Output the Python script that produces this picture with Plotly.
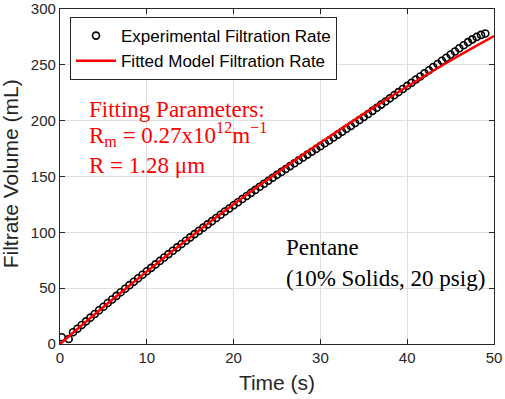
import plotly.graph_objects as go

exp_time = [0.2, 1.0, 1.5, 2.0, 2.5, 3.0, 3.5, 4.0, 4.5, 5.0, 5.5, 6.0, 6.5, 7.0, 7.5, 8.0,
            8.5, 9.0, 9.5, 10.0, 10.5, 11.0, 11.5, 12.0, 12.5, 13.0, 13.5, 14.0, 14.5, 15.0,
            15.5, 16.0, 16.5, 17.0, 17.5, 18.0, 18.5, 19.0, 19.5, 20.0, 20.5, 21.0, 21.5,
            22.0, 22.5, 23.0, 23.5, 24.0, 24.5, 25.0, 25.5, 26.0, 26.5, 27.0, 27.5, 28.0,
            28.5, 29.0, 29.5, 30.0, 30.5, 31.0, 31.5, 32.0, 32.5, 33.0, 33.5, 34.0, 34.5,
            35.0, 35.5, 36.0, 36.5, 37.0, 37.5, 38.0, 38.5, 39.0, 39.5, 40.0, 40.5, 41.0,
            41.5, 42.0, 42.5, 43.0, 43.5, 44.0, 44.5, 45.0, 45.5, 46.0, 46.5, 47.0, 47.5,
            48.0, 48.5, 49.0]
exp_volume = [6.0, 4.5, 10.5, 13.6, 17.0, 20.3, 23.6, 26.9, 30.2, 33.4, 36.7, 39.9, 43.1,
              46.3, 49.5, 52.7, 55.8, 58.9, 62.0, 65.1, 68.2, 71.3, 74.4, 77.4, 80.5, 83.5,
              86.5, 89.5, 92.5, 95.5, 98.4, 101.3, 104.2, 107.1, 110.0, 112.9, 115.8, 118.6,
              121.4, 124.2, 127.0, 129.8, 132.5, 135.3, 138.0, 140.8, 143.5, 146.2, 148.9,
              151.5, 154.1, 156.7, 159.3, 161.9, 164.5, 167.0, 169.6, 172.1, 174.7, 177.2,
              179.8, 182.3, 184.9, 187.5, 190.1, 192.7, 195.3, 197.9, 200.6, 203.3, 206.0,
              208.8, 211.6, 214.4, 217.2, 220.0, 222.8, 225.6, 228.4, 231.2, 234.0, 236.8,
              239.6, 242.4, 245.2, 248.0, 250.8, 253.6, 256.4, 259.2, 262.0, 264.8, 267.6,
              270.3, 272.8, 275.0, 276.8, 278.0]

# Fitted model curve
fit_time = [0, 5, 10, 15, 20, 25, 30, 35, 40, 45, 50]
fit_volume = [0, 33.1, 65.0, 95.7, 125.1, 153.3, 180.3, 206.1, 230.6, 253.9, 275.7]

x_ticks = [0, 10, 20, 30, 40, 50]
y_ticks = [0, 50, 100, 150, 200, 250, 300]

SANS = "Liberation Sans, Arial"
SERIF = "Liberation Serif, Times New Roman"

fig = go.Figure()
fig.add_trace(go.Scatter(
    x=exp_time, y=exp_volume, mode="markers",
    name="Experimental Filtration Rate",
    marker=dict(symbol="circle-open", size=7, color="black", line=dict(width=1.6, color="black")),
))
fig.add_trace(go.Scatter(
    x=fit_time, y=fit_volume, mode="lines", line_shape="spline",
    name="Fitted Model Filtration Rate",
    line=dict(color="#ff0000", width=2.5),
))

axis_common = dict(
    showline=True, linecolor="#262626", linewidth=1.2, mirror="ticks",
    ticks="inside", ticklen=5, tickcolor="#262626",
    showgrid=True, gridcolor="#dfdfdf", gridwidth=1,
    zeroline=False, automargin=False,
    tickfont=dict(family=SANS, size=15, color="#262626"),
)

fig.update_xaxes(range=[0, 50], tickvals=x_ticks,
                 title=dict(text="Time (s)", font=dict(family=SANS, size=21, color="#262626"), standoff=10),
                 **axis_common)
fig.update_yaxes(range=[0, 300], tickvals=y_ticks, **axis_common)

fig.update_layout(
    width=505, height=399,
    margin=dict(l=60, r=11, t=9, b=55),
    paper_bgcolor="white", plot_bgcolor="white",
    showlegend=True,
    legend=dict(
        x=0.023, y=0.976, xanchor="left", yanchor="top",
        bgcolor="white", bordercolor="#262626", borderwidth=1,
        font=dict(family=SANS, size=17, color="black"),
        tracegroupgap=0, itemwidth=40,
    ),
)

# y-axis title (placed as rotated text to match its position)
fig.add_annotation(xref="paper", yref="paper", x=-0.114, y=0.508, xanchor="center", yanchor="middle",
                   text="Filtrate Volume (mL)", textangle=-90, showarrow=False,
                   font=dict(family=SANS, size=21, color="#262626"))

red_font = dict(family=SERIF, size=23, color="#ff0000")
fig.add_annotation(xref="paper", yref="paper", x=0.063, y=0.699, xanchor="left", yanchor="middle",
                   text="Fitting Parameters:", showarrow=False, font=red_font)
fig.add_annotation(xref="paper", yref="paper", x=0.063, y=0.625, xanchor="left", yanchor="middle",
                   text="R<sub>m</sub> = 0.27x10<sup>12</sup>m<sup>−1</sup>", showarrow=False, font=red_font)
fig.add_annotation(xref="paper", yref="paper", x=0.063, y=0.534, xanchor="left", yanchor="middle",
                   text="R = 1.28 μm", showarrow=False, font=red_font)

black_font = dict(family=SERIF, size=23, color="black")
fig.add_annotation(xref="paper", yref="paper", x=0.515, y=0.287, xanchor="left", yanchor="middle",
                   text="Pentane", showarrow=False, font=black_font)
fig.add_annotation(xref="paper", yref="paper", x=0.515, y=0.197, xanchor="left", yanchor="middle",
                   text="(10% Solids, 20 psig)", showarrow=False, font=black_font)

fig.write_html("out.html", config={"displayModeBar": False},
               post_script="document.body.style.margin='0';")
